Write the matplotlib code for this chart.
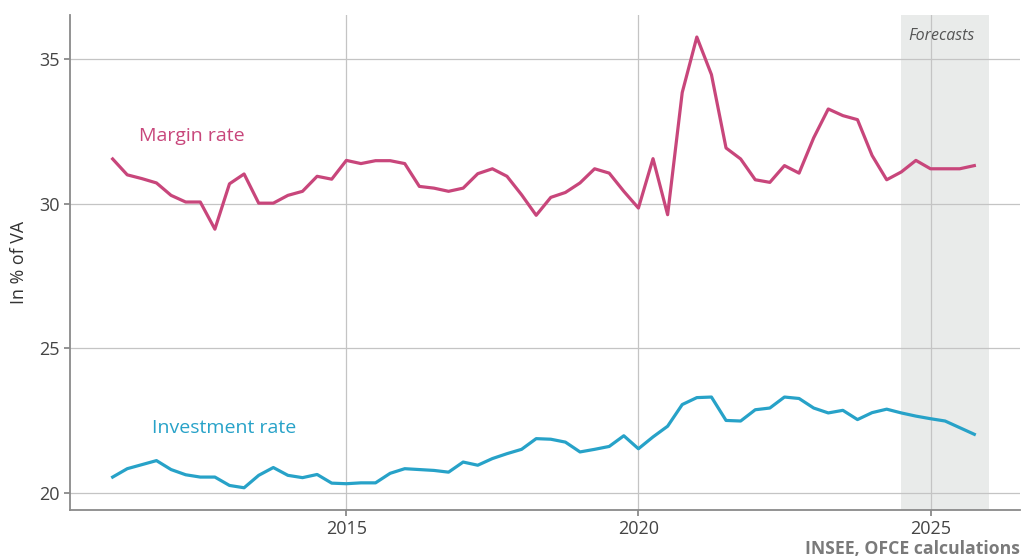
import matplotlib.pyplot as plt
import numpy as np

plt.rcParams['font.family'] = ['Open Sans', 'DejaVu Sans']

# Quarterly data, 2011Q1 - 2025Q4 (in % of value added)
years = np.arange(2011, 2026)
quarters = np.array([y + q / 4 for y in years for q in range(4)])

margin_rate = [
    31.55, 31.00, 30.87, 30.72,  # 2011
    30.29, 30.06, 30.06, 29.12,  # 2012
    30.69, 31.03, 30.02, 30.02,  # 2013
    30.29, 30.43, 30.95, 30.85,  # 2014
    31.50, 31.39, 31.49, 31.49,  # 2015
    31.39, 30.60, 30.54, 30.43,  # 2016
    30.54, 31.04, 31.21, 30.95,  # 2017
    30.31, 29.60, 30.22, 30.39,  # 2018
    30.72, 31.21, 31.06, 30.43,  # 2019
    29.85, 31.56, 29.62, 33.85,  # 2020
    35.77, 34.47, 31.93, 31.55,  # 2021
    30.83, 30.74, 31.32, 31.06,  # 2022
    32.28, 33.28, 33.05, 32.91,  # 2023
    31.67, 30.83, 31.10, 31.50,  # 2024
    31.21, 31.21, 31.21, 31.32,  # 2025
]

investment_rate = [
    20.54, 20.83, 20.97, 21.11,  # 2011
    20.80, 20.62, 20.54, 20.54,  # 2012
    20.25, 20.17, 20.60, 20.87,  # 2013
    20.60, 20.52, 20.63, 20.33,  # 2014
    20.31, 20.34, 20.34, 20.67,  # 2015
    20.83, 20.80, 20.77, 20.71,  # 2016
    21.06, 20.95, 21.18, 21.35,  # 2017
    21.50, 21.87, 21.85, 21.75,  # 2018
    21.41, 21.50, 21.60, 21.97,  # 2019
    21.52, 21.93, 22.30, 23.05,  # 2020
    23.29, 23.31, 22.50, 22.48,  # 2021
    22.87, 22.93, 23.31, 23.26,  # 2022
    22.93, 22.76, 22.85, 22.53,  # 2023
    22.77, 22.89, 22.76, 22.65,  # 2024
    22.56, 22.48, 22.25, 22.02,  # 2025
]

forecast_start, forecast_end = 2024.5, 2026.0

margin_color = '#c8467b'
invest_color = '#27a2c8'
grid_color = '#c4c4c4'
spine_color = '#8a8a8a'
text_color = '#444444'

fig = plt.figure(figsize=(10.22, 5.58), dpi=100)
ax = fig.add_axes([0.0685, 0.086, 0.93, 0.887])

ax.axvspan(forecast_start, forecast_end, color='#e9ebea', zorder=0, lw=0)
ax.plot(quarters, margin_rate, color=margin_color, lw=2.3, zorder=3)
ax.plot(quarters, investment_rate, color=invest_color, lw=2.3, zorder=3)

ax.set_xlim(2010.27, 2026.54)
ax.set_ylim(19.40, 36.53)
ax.set_xticks([2015, 2020, 2025])
ax.set_yticks([20, 25, 30, 35])
ax.grid(True, color=grid_color, lw=0.9, zorder=1)
ax.set_axisbelow(True)

for side in ['top', 'right']:
    ax.spines[side].set_visible(False)
for side in ['left', 'bottom']:
    ax.spines[side].set_color(spine_color)
    ax.spines[side].set_linewidth(1.3)
ax.tick_params(colors=text_color, labelsize=13, length=4, width=1.3)
ax.tick_params(axis='both', color=spine_color)

ax.set_ylabel('In % of VA', fontsize=12.8, color='#333333', labelpad=8)

ax.text(2012.35, 32.36, 'Margin rate', color=margin_color, fontsize=14,
        ha='center', va='center')
ax.text(2012.91, 22.23, 'Investment rate', color=invest_color, fontsize=14,
        ha='center', va='center')
ax.text(2025.18, 35.82, 'Forecasts', color='#555555', fontsize=11.5,
        style='italic', ha='center', va='center')

fig.text(0.998, 0.016, 'INSEE, OFCE calculations', color='#7a7a7a',
         fontsize=12.7, fontweight='bold', ha='right', va='center')

fig.savefig('out.png', dpi=100)
